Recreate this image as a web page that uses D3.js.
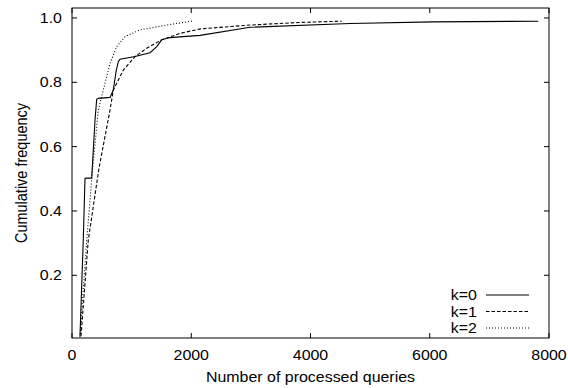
<!DOCTYPE html>
<html>
<head>
<meta charset="utf-8">
<script src="https://cdn.jsdelivr.net/npm/d3@7"></script>
<style>
  html, body { margin: 0; padding: 0; background: #fff; }
  svg { display: block; }
</style>
</head>
<body>
<div id="chart"></div>
<script>
// 累积频率曲线（k=0/1/2），读数取自原图
const xTicks = [0, 2000, 4000, 6000, 8000];
const yTicks = [0.2, 0.4, 0.6, 0.8, 1.0];
const seriesNames = ["k=0", "k=1", "k=2"];

// [处理查询数, 累积频率]
const k0 = [
  [134, 0.011], [190, 0.316], [218, 0.501], [240, 0.502], [330, 0.502],
  [386, 0.683], [414, 0.747], [440, 0.750], [638, 0.753], [693, 0.776],
  [740, 0.835], [777, 0.864], [805, 0.872], [1057, 0.880], [1309, 0.892],
  [1421, 0.911], [1505, 0.932], [1644, 0.939], [2148, 0.946], [2987, 0.971],
  [4664, 0.983], [6057, 0.988], [7819, 0.990]
];
const k1 = [
  [151, 0.011], [273, 0.309], [450, 0.530], [638, 0.714], [693, 0.776],
  [861, 0.838], [1057, 0.880], [1253, 0.906], [1505, 0.932], [1812, 0.952],
  [2148, 0.966], [2987, 0.978], [3800, 0.986], [4525, 0.990]
];
const k2 = [
  [134, 0.008], [247, 0.309], [340, 0.520], [441, 0.714], [525, 0.776],
  [638, 0.859], [750, 0.911], [889, 0.942], [1141, 0.963], [1589, 0.978],
  [2035, 0.991]
];

const W = 568, H = 388;
const ML = 72, MR = 19, MT = 8, MB = 50;
const FONT = "'Liberation Sans', Arial, Helvetica, sans-serif";
const FS = 14.5, SX = 1.1; // 原图横向略拉伸

const svg = d3.select("#chart").append("svg")
  .attr("width", W).attr("height", H)
  .attr("viewBox", `0 0 ${W} ${H}`);

const x = d3.scaleLinear().domain([0, 8000]).range([ML, W - MR]);
const y = d3.scaleLinear().domain([0.005, 1.031]).range([H - MB, MT]);

const txt = (tx, ty, s, anchor, rot) => svg.append("text")
  .attr("transform", `translate(${tx},${ty}) scale(${SX},1)` + (rot ? ` rotate(${rot})` : ""))
  .attr("text-anchor", anchor)
  .attr("style", `font:${FS}px ${FONT};fill:#000`).text(s);

const TK = 5;
// 刻度：内向，四边镜像
yTicks.forEach(v => {
  svg.append("line").attr("x1", ML).attr("x2", ML + TK).attr("y1", y(v)).attr("y2", y(v))
    .attr("stroke", "#000").attr("stroke-width", 1);
  svg.append("line").attr("x1", W - MR).attr("x2", W - MR - TK).attr("y1", y(v)).attr("y2", y(v))
    .attr("stroke", "#000").attr("stroke-width", 1);
  txt(ML - 10, y(v) + 5, v.toFixed(1), "end");
});
xTicks.forEach(v => {
  svg.append("line").attr("x1", x(v)).attr("x2", x(v)).attr("y1", H - MB).attr("y2", H - MB - TK)
    .attr("stroke", "#000").attr("stroke-width", 1);
  svg.append("line").attr("x1", x(v)).attr("x2", x(v)).attr("y1", MT).attr("y2", MT + TK)
    .attr("stroke", "#000").attr("stroke-width", 1);
  txt(x(v), H - MB + 22, String(v), "middle");
});

// 曲线
const line = d3.line().x(d => x(d[0])).y(d => y(d[1]));
const styles = [
  { data: k0, dash: null },
  { data: k1, dash: "3.5,2" },
  { data: k2, dash: "1,2" },
];
styles.forEach(s => {
  svg.append("path").attr("d", line(s.data)).attr("fill", "none")
    .attr("stroke", "#000").attr("stroke-width", 1.1)
    .attr("stroke-dasharray", s.dash);
});

// 外框
svg.append("rect").attr("x", ML).attr("y", MT)
  .attr("width", W - MR - ML).attr("height", H - MB - MT)
  .attr("fill", "none").attr("stroke", "#000").attr("stroke-width", 1);

// 图例（右下）
seriesNames.forEach((n, i) => {
  const ly = 295 + i * 16.5;
  txt(477, ly + 5, n, "end");
  svg.append("line").attr("x1", 486).attr("x2", 529).attr("y1", ly).attr("y2", ly)
    .attr("stroke", "#000").attr("stroke-width", 1.1)
    .attr("stroke-dasharray", styles[i].dash);
});

// 轴标题
txt((ML + W - MR) / 2, H - 6, "Number of processed queries", "middle");
txt(27, (MT + H - MB) / 2, "Cumulative frequency", "middle", -90);
</script>
</body>
</html>
